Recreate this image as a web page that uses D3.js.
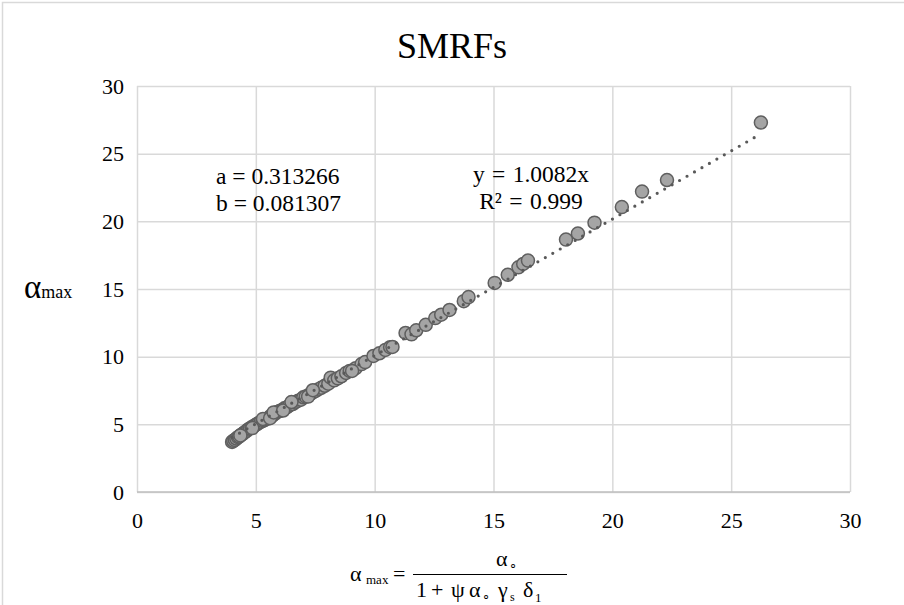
<!DOCTYPE html>
<html>
<head>
<meta charset="utf-8">
<script src="https://cdn.jsdelivr.net/npm/d3@7/dist/d3.min.js"></script>
<style>
  html, body { margin: 0; padding: 0; background: #fff; }
  svg { display: block; }
  text { font-family: "Liberation Serif", "Times New Roman", serif; fill: #000; }
</style>
</head>
<body>
<svg id="chart" width="904" height="605"></svg>
<script>
// Predicted vs. computed alpha_max for the SMRF set
const xValues = [4.00, 4.05, 4.12, 4.18, 4.25, 4.30, 4.38, 4.45, 4.52, 4.60,
  4.68, 4.75, 4.82, 4.90, 4.98, 5.05, 5.12, 5.20, 5.28, 5.35,
  5.45, 5.55, 5.62, 5.70, 5.80, 5.90, 6.00, 6.10, 6.20, 6.30,
  6.42, 6.55, 6.65, 6.78, 6.90, 7.00, 7.10, 7.25, 7.35, 7.50,
  7.62, 7.75, 7.90, 8.05, 8.15, 8.30, 8.45, 8.60, 8.80, 8.95,
  9.20, 9.45, 9.60, 9.95, 10.20, 10.45, 10.65, 10.75, 11.30, 11.55,
  11.75, 12.15, 12.55, 12.80, 13.15, 13.75, 13.95, 15.05, 15.60, 16.05,
  16.25, 16.45, 18.05, 18.55, 19.25, 20.40, 21.25, 22.30, 26.25,
  4.35, 4.85, 5.30, 5.60, 5.75, 6.15, 6.50, 7.20, 7.40, 9.05];
const yValues = [3.70, 3.78, 3.85, 3.95, 4.05, 4.10, 4.22, 4.30, 4.40, 4.50,
  4.62, 4.70, 4.78, 4.85, 4.95, 5.02, 5.10, 5.18, 5.25, 5.30,
  5.40, 5.50, 5.60, 5.65, 5.78, 5.92, 5.98, 6.05, 6.18, 6.25,
  6.40, 6.50, 6.62, 6.75, 6.82, 7.00, 7.05, 7.20, 7.30, 7.45,
  7.58, 7.70, 7.85, 8.00, 8.45, 8.25, 8.40, 8.55, 8.80, 8.95,
  9.15, 9.45, 9.60, 10.05, 10.25, 10.50, 10.70, 10.72, 11.75, 11.65,
  11.95, 12.35, 12.85, 13.10, 13.45, 14.10, 14.40, 15.45, 16.05, 16.60,
  16.85, 17.10, 18.65, 19.10, 19.90, 21.05, 22.20, 23.05, 27.30,
  4.18, 4.72, 5.40, 5.45, 5.88, 6.02, 6.65, 7.05, 7.52, 8.95];

const xTicks = [0, 5, 10, 15, 20, 25, 30];
const yTicks = [0, 5, 10, 15, 20, 25, 30];
const slope = 1.0082;           // linear trendline through the origin
const fitLabels = ["y = 1.0082x", "R\u00B2 = 0.999"];
const coefLabels = ["a = 0.313266", "b = 0.081307"];
const title = "SMRFs";

const points = xValues.map((x, i) => ({ x, y: yValues[i] }));

const svg = d3.select("#chart");
const W = 904, H = 605;
const plot = { left: 137, right: 850, top: 86, bottom: 492 };

const x = d3.scaleLinear().domain([0, 30]).range([plot.left, plot.right]);
const y = d3.scaleLinear().domain([0, 30]).range([plot.bottom, plot.top]);

// chart area frame
svg.append("rect")
  .attr("x", 2.5).attr("y", 2.5)
  .attr("width", W + 10).attr("height", H + 10)
  .attr("fill", "#fff").attr("stroke", "#d9d9d9").attr("stroke-width", 1.5);

// title
svg.append("text")
  .attr("x", 452).attr("y", 58)
  .attr("text-anchor", "middle")
  .attr("font-size", 36)
  .text(title);

// gridlines + tick labels via axes
const gx = svg.append("g")
  .attr("transform", `translate(0,${plot.bottom})`)
  .call(d3.axisBottom(x).tickValues(xTicks).tickSize(-(plot.bottom - plot.top)).tickPadding(20).tickFormat(d3.format("d")));
const gy = svg.append("g")
  .attr("transform", `translate(${plot.left},0)`)
  .call(d3.axisLeft(y).tickValues(yTicks).tickSize(-(plot.right - plot.left)).tickPadding(13).tickFormat(d3.format("d")));

[gx, gy].forEach(g => {
  g.select(".domain").remove();
  g.selectAll(".tick line").attr("stroke", "#d9d9d9").attr("stroke-width", 1.5);
  g.selectAll(".tick text")
    .attr("font-family", "'Liberation Serif', 'Times New Roman', serif")
    .attr("font-size", 22).attr("fill", "#000");
});
gx.selectAll(".tick text").attr("dy", "0.71em");

// horizontal axis line
svg.append("line")
  .attr("x1", plot.left).attr("x2", plot.right)
  .attr("y1", plot.bottom).attr("y2", plot.bottom)
  .attr("stroke", "#bfbfbf").attr("stroke-width", 1.5);

// markers
svg.append("g").selectAll("circle")
  .data(points)
  .join("circle")
  .attr("cx", d => x(d.x))
  .attr("cy", d => y(d.y))
  .attr("r", 6.5)
  .attr("fill", "#a5a5a5")
  .attr("stroke", "#5f5f5f")
  .attr("stroke-width", 1.5);

// dotted trendline across the data range
const [xMin, xMax] = d3.extent(xValues);
svg.append("line")
  .attr("x1", x(xMin)).attr("y1", y(slope * xMin))
  .attr("x2", x(xMax)).attr("y2", y(slope * xMax))
  .attr("stroke", "#595959")
  .attr("stroke-width", 3.2)
  .attr("stroke-linecap", "round")
  .attr("stroke-dasharray", "0,8.6");

// coefficient and fit labels
const coef = svg.append("text").attr("font-size", 23.5);
coefLabels.forEach((t, i) => {
  coef.append("tspan").attr("x", 216).attr("y", 184 + i * 27).text(t);
});
const fit = svg.append("text").attr("font-size", 23.5).attr("text-anchor", "middle")
  .attr("word-spacing", 1.5);
fitLabels.forEach((t, i) => {
  fit.append("tspan").attr("x", 531).attr("y", 182 + i * 27).text(t);
});

// vertical axis title: alpha_max
const yl = svg.append("text").attr("x", 24).attr("y", 298);
yl.append("tspan").attr("font-size", 33).text("\u03B1");
yl.append("tspan").attr("font-size", 18).text("max");

// horizontal axis title: alpha_max = alpha_o / (1 + psi alpha_o gamma_s delta_1)
// each glyph: [text, x, baseline, size]
const eqLeft = [["\u03B1", 350, 581, 22], ["max", 366, 584, 13], ["=", 393, 581, 22]];
const eqNum = [["\u03B1", 496, 566, 22], ["\u2218", 509, 569, 13]];
const eqDen = [["1", 416, 597, 22], ["+", 431, 597, 22], ["\u03C8", 451, 597, 22],
  ["\u03B1", 469, 597, 22], ["\u2218", 482, 600, 13], ["\u03B3", 498, 597, 22],
  ["s", 510, 601, 12], ["\u03B4", 523, 597, 22], ["1", 535, 602, 13]];

const fx = svg.append("g");
[...eqLeft, ...eqNum, ...eqDen].forEach(([t, gxp, gyp, fs]) => {
  fx.append("text").attr("x", gxp).attr("y", gyp).attr("font-size", fs).text(t);
});
fx.append("line")
  .attr("x1", 413).attr("x2", 567)
  .attr("y1", 574.5).attr("y2", 574.5)
  .attr("stroke", "#000").attr("stroke-width", 1);
</script>
</body>
</html>
